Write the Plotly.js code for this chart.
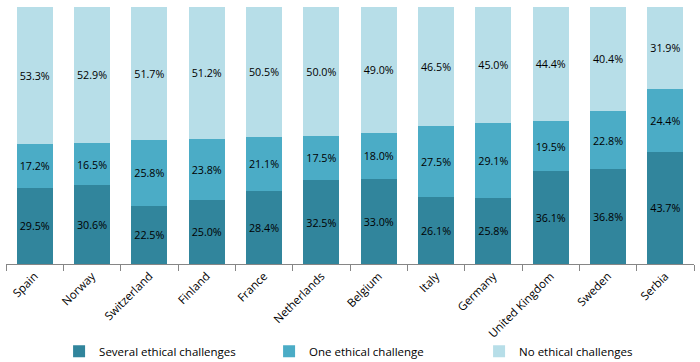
<!DOCTYPE html>
<html>
<head>
<meta charset="utf-8">
<script src="https://cdn.plot.ly/plotly-3.0.1.min.js"></script>
<style>html,body{margin:0;padding:0;background:#fff;}#chart{width:700px;height:362px;}</style>
</head>
<body>
<div id="chart"></div>
<script>
const countries = ["Spain","Norway","Switzerland","Finland","France","Netherlands","Belgium","Italy","Germany","United Kingdom","Sweden","Serbia"];
const several = [29.5,30.6,22.5,25.0,28.4,32.5,33.0,26.1,25.8,36.1,36.8,43.7];
const one = [17.2,16.5,25.8,23.8,21.1,17.5,18.0,27.5,29.1,19.5,22.8,24.4];
const none = [53.3,52.9,51.7,51.2,50.5,50.0,49.0,46.5,45.0,44.4,40.4,31.9];
const seriesNames = ["Several ethical challenges","One ethical challenge","No ethical challenges"];
const colors = ["#31859c","#4bacc6","#b7dee8"];
const FONT = "Open Sans, Noto Sans, sans-serif";

const mk = (vals, i) => ({
  type: "bar", x: countries, y: vals, name: seriesNames[i],
  marker: {color: colors[i], line: {width: 0}},
  text: vals.map(v => v.toFixed(1) + "%"),
  textposition: "inside", insidetextanchor: "middle",
  textfont: {family: FONT, size: 11, color: "#000"},
  textangle: 0, hoverinfo: "none"
});
const data = [mk(several,0), mk(one,1), mk(none,2)];
const layout = {
  width: 700, height: 362,
  margin: {l: 6, r: 6, t: 7, b: 98, autoexpand: false},
  barmode: "stack", bargap: 0.37,
  paper_bgcolor: "#fff", plot_bgcolor: "#fff",
  font: {family: FONT, size: 11, color: "#000"},
  uniformtext: {mode: false},
  xaxis: {
    type: "category", tickangle: -45, tickson: "boundaries", automargin: false,
    ticks: "outside", ticklen: 6, tickcolor: "#868686",
    showline: true, linecolor: "#868686", linewidth: 1,
    showgrid: false, tickfont: {family: FONT, size: 11.5, color: "#000"}
  },
  yaxis: {range: [0, 100], visible: false, showgrid: false, zeroline: false, automargin: false},
  showlegend: true,
  legend: {
    orientation: "h", xref: "paper", x: 0.535, xanchor: "center",
    yref: "container", y: 0.03, yanchor: "middle",
    font: {family: FONT, size: 11.5, color: "#000"},
    traceorder: "normal", itemwidth: 30, entrywidth: 165, entrywidthmode: "pixels"
  }
};
Plotly.newPlot("chart", data, layout, {staticPlot: true, displayModeBar: false});
</script>
</body>
</html>
